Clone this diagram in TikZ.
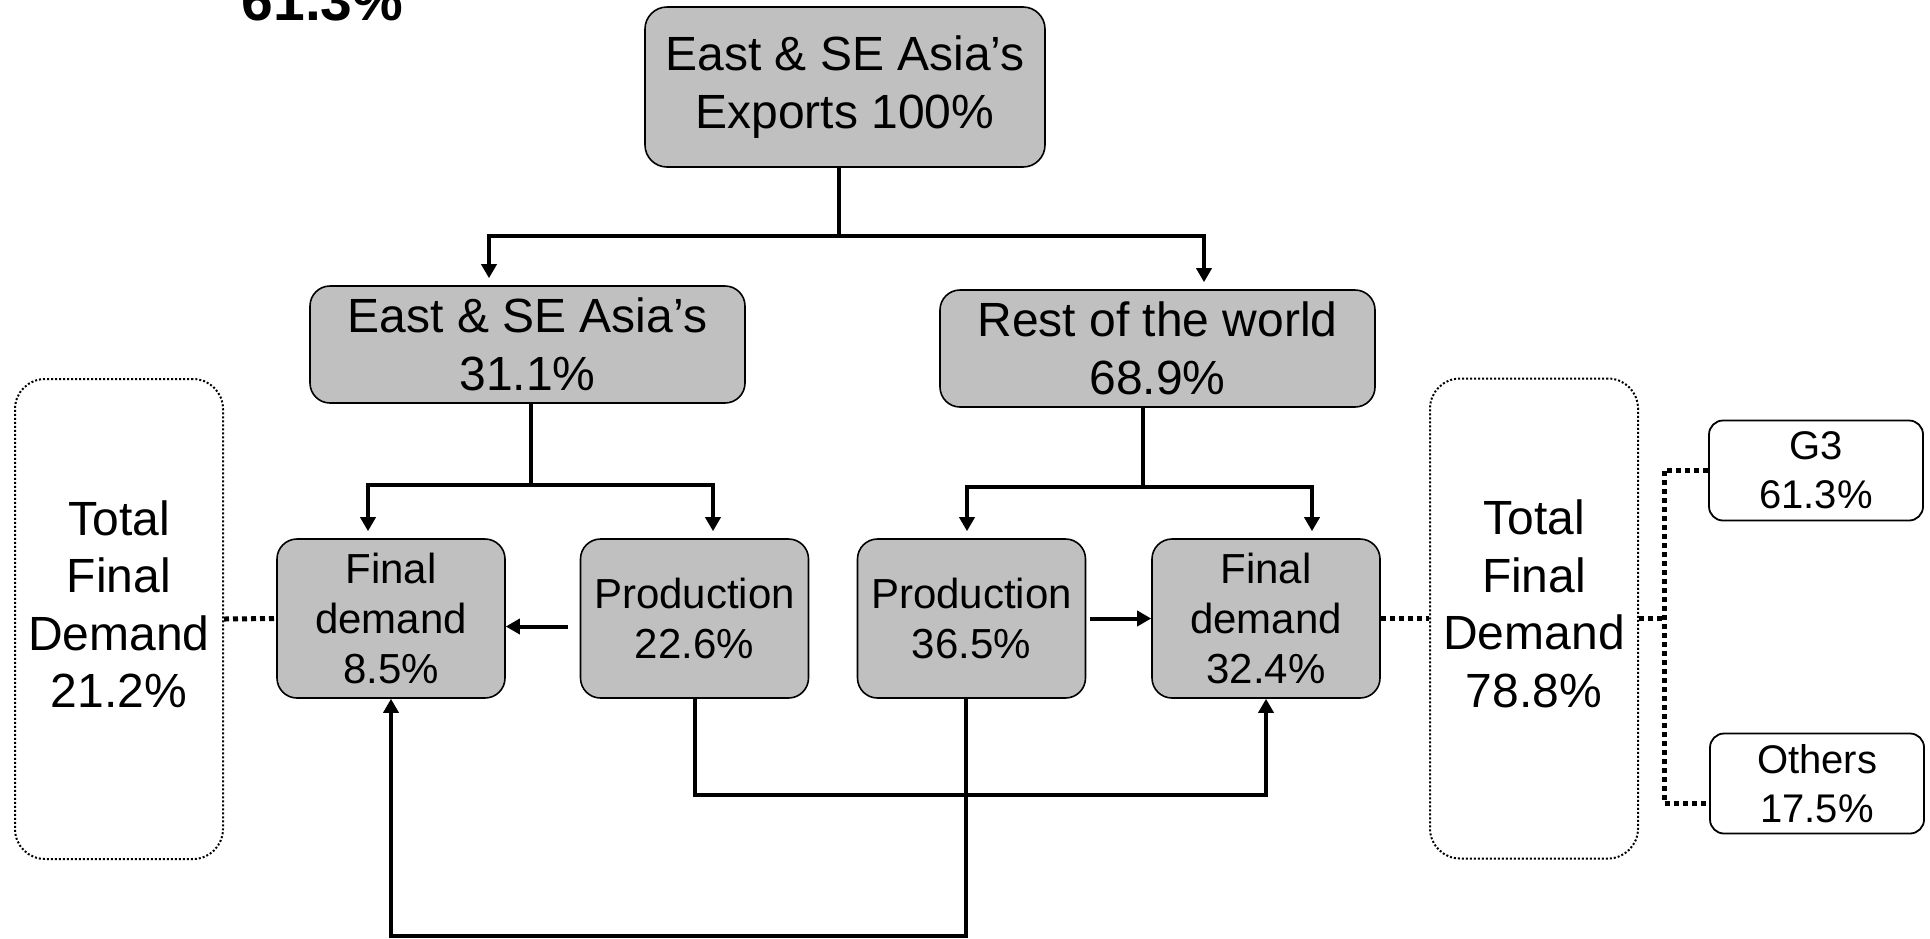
\documentclass[tikz,border=0pt]{standalone}
\usepackage{fontspec}
\setmainfont{Liberation Sans}
\usetikzlibrary{arrows.meta}

\definecolor{boxgrey}{RGB}{192,192,192}
\newcommand{\bigsize}{\fontsize{24}{28.8}\selectfont}
\newcommand{\midsize}{\fontsize{21}{25.2}\selectfont}
\newcommand{\smallsize}{\fontsize{20}{24.5}\selectfont}

\tikzset{
    greybox/.style = {draw, fill=boxgrey, line width=0.8pt, rounded corners=10pt, align=center, inner sep=0pt},
    topbox/.style = {greybox, font=\bigsize, minimum width=217.5pt, minimum height=58.5pt},
    midbox/.style = {greybox, font=\midsize, minimum width=114pt, minimum height=79.5pt},
    whitebox/.style = {draw, line width=0.9pt, rounded corners=7pt, align=center, inner sep=0pt, font=\smallsize, minimum width=107pt, minimum height=50pt},
    dotbox/.style = {draw, line width=1pt, dash pattern=on 1pt off 1pt, rounded corners=15pt, align=center, inner sep=0pt, font=\bigsize, minimum width=104pt, minimum height=240pt, text depth=15pt},
    link/.style = {line width=2pt},
    flow/.style = {link, -{Triangle[length=7pt,width=7.5pt]}},
    biflow/.style = {link, {Triangle[length=7pt,width=7.5pt]}-{Triangle[length=7pt,width=7.5pt]}, shorten <=3.5pt, shorten >=3.5pt},
    dotlink/.style = {line width=2.5pt, dash pattern=on 2.5pt off 2pt}
}

\begin{document}
\begin{tikzpicture}[x = 0.5pt, y = -0.5pt]
    \useasboundingbox (0,0) rectangle (1930,938);

    % cut off heading
    \node[font=\fontsize{28.5}{34}\selectfont\bfseries, anchor=base, inner sep=0pt] (cut) at (322.5,20) {61.3\%};

    % boxes
    \node[greybox, font=\bigsize, minimum width=200pt, minimum height=80pt, rounded corners=11pt] (exports) at (845,87) {East \& SE Asia’s\\Exports 100\%};
    \node[topbox] (asia) at (527.5,344.5) {East \& SE Asia’s\\31.1\%};
    \node[topbox] (row) at (1157.5,348.5) {Rest of the world\\68.9\%};
    \node[midbox] (fdasia) at (391,618.5) {Final\\demand\\8.5\%};
    \node[midbox] (prodasia) at (694.5,618.5) {Production\\22.6\%};
    \node[midbox] (prodrow) at (971.5,618.5) {Production\\36.5\%};
    \node[midbox] (fdrow) at (1266,618.5) {Final\\demand\\32.4\%};
    \node[dotbox] (tfdasia) at (119,619) {Total\\Final\\Demand\\21.2\%};
    \node[dotbox] (tfdrow) at (1534,618.5) {Total\\Final\\Demand\\78.8\%};
    \node[whitebox] (gthree) at (1816,470.5) {G3\\61.3\%};
    \node[whitebox] (others) at (1817,783.5) {Others\\17.5\%};

    % tree connectors
    \coordinate (tstem) at (839,236);
    \coordinate (tl) at (489,236);
    \coordinate (tr) at (1204,236);
    \draw[link] (tstem |- exports.south) -- (tstem);
    \draw[biflow] (tl |- asia.north) -- (tl) -- (tr) -- (tr |- row.north);

    \coordinate (lstem) at (531,485);
    \coordinate (ll) at (368,485);
    \coordinate (lr) at (713,485);
    \draw[link] (lstem |- asia.south) -- (lstem);
    \draw[biflow] (ll |- fdasia.north) -- (ll) -- (lr) -- (lr |- prodasia.north);

    \coordinate (rstem) at (1143,487);
    \coordinate (rl) at (967,487);
    \coordinate (rr) at (1312,487);
    \draw[link] (rstem |- row.south) -- (rstem);
    \draw[biflow] (rl |- prodrow.north) -- (rl) -- (rr) -- (rr |- fdrow.north);

    % production to final demand
    \draw[flow] ([shift={(-6pt,-4pt)}]prodasia.west) -- ([yshift=-4pt]fdasia.east);
    \draw[flow] ([xshift=2pt]prodrow.east) -- (fdrow.west);
    \draw[flow] (prodasia.south) -- ++(0,96) -| (fdrow.south);
    \draw[flow] ([xshift=-3pt]prodrow.south) -- ++(0,237) -| (fdasia.south);

    % dotted links
    \coordinate (rsplit) at (1664,618.5);
    \draw[dotlink] (tfdasia.east) -- (fdasia.west);
    \draw[dotlink] (fdrow.east) -- (tfdrow.west);
    \draw[dotlink] (tfdrow.east) -- (rsplit);
    \draw[dotlink] (gthree.west) -| (rsplit) |- ([yshift=-10pt]others.west);
\end{tikzpicture}
\end{document}
